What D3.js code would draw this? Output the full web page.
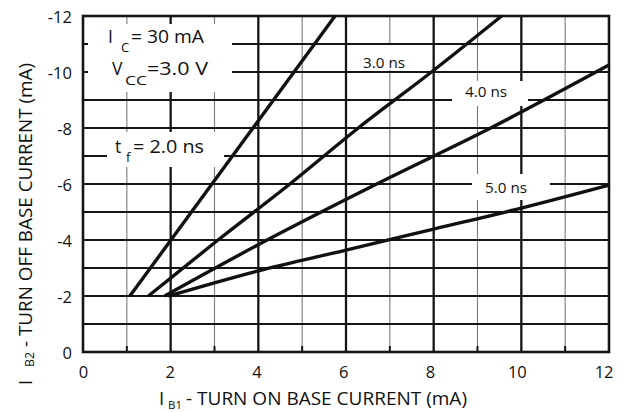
<!DOCTYPE html>
<html>
<head>
<meta charset="utf-8">
<script src="https://cdn.jsdelivr.net/npm/d3@7"></script>
<style>
  body { margin: 0; background: #fff; }
  svg { display: block; font-family: 'Open Sans', sans-serif; }
</style>
</head>
<body>
<div id="chart"></div>
<script>
// values (IB1 mA, IB2 mA)
const xTicks = [0, 2, 4, 6, 8, 10, 12];
const yTicks = [0, -2, -4, -6, -8, -10, -12];
const curveNames = ['2.0 ns', '3.0 ns', '4.0 ns', '5.0 ns'];
const tf20 = [[1.07, -2], [5.75, -12]];
const tf30 = [[1.49, -2], [3.08, -4], [4.72, -6], [6.28, -8], [7.95, -10], [9.55, -12]];
const tf40 = [[1.86, -2], [4.2, -4], [6.7, -6], [9.3, -8], [12, -10.25]];
const tf50 = [[1.95, -2], [4, -2.9], [6, -3.64], [8, -4.39], [10, -5.14], [12, -5.96]];
const curves = [tf20, tf30, tf40, tf50];

const width = 632, height = 412;
const margin = {top: 16, right: 23, bottom: 60, left: 83};

const svg = d3.select('#chart').append('svg')
  .attr('width', width)
  .attr('height', height);

const x = d3.scaleLinear().domain([0, 12]).range([margin.left, width - margin.right]);
const y = d3.scaleLinear().domain([0, -12]).range([height - margin.bottom, margin.top]);

// grid
const grid = svg.append('g');
grid.selectAll('.vline')
  .data(d3.range(1, 12))
  .enter().append('line')
  .attr('x1', d => x(d)).attr('x2', d => x(d))
  .attr('y1', y(0)).attr('y2', y(-12))
  .attr('stroke', d => d % 2 ? '#7a7a7a' : '#151515')
  .attr('stroke-width', d => d % 2 ? 1.1 : 2.3);

grid.selectAll('.hline')
  .data(d3.range(-11, 0))
  .enter().append('line')
  .attr('x1', x(0)).attr('x2', x(12))
  .attr('y1', d => y(d)).attr('y2', d => y(d))
  .attr('stroke', '#151515')
  .attr('stroke-width', 2);

// short bold ticks on the odd minor lines
grid.selectAll('.tick-minor')
  .data(d3.range(1, 12, 2))
  .enter().append('line')
  .attr('x1', d => x(d)).attr('x2', d => x(d))
  .attr('y1', y(0)).attr('y2', y(0) - 6)
  .attr('stroke', '#151515')
  .attr('stroke-width', 2);

// white label backgrounds
const boxes = [[88, 24, 144, 68], [107, 132, 117, 35], [352, 45, 63, 25], [452, 81, 76, 25], [472, 174, 78, 26]];
svg.append('g').selectAll('rect')
  .data(boxes)
  .enter().append('rect')
  .attr('x', d => d[0]).attr('y', d => d[1])
  .attr('width', d => d[2]).attr('height', d => d[3])
  .attr('fill', '#fff');

// frame
svg.append('rect')
  .attr('x', x(0)).attr('y', y(-12))
  .attr('width', x(12) - x(0)).attr('height', y(0) - y(-12))
  .attr('fill', 'none')
  .attr('stroke', '#151515')
  .attr('stroke-width', 2.6);

// curves
const line = d3.line()
  .x(d => x(d[0]))
  .y(d => y(d[1]))
  .curve(d3.curveMonotoneX);

svg.append('g').selectAll('path')
  .data(curves)
  .enter().append('path')
  .attr('d', line)
  .attr('fill', 'none')
  .attr('stroke', '#111')
  .attr('stroke-width', 3.4)
  .attr('stroke-linecap', 'butt');

// axes
const xAxis = svg.append('g')
  .attr('transform', 'translate(0,' + y(0) + ')')
  .call(d3.axisBottom(x).tickValues(xTicks).tickSize(0).tickPadding(14));
xAxis.select('.domain').remove();
xAxis.selectAll('text')
  .attr('font-size', 16.5)
  .attr('font-family', 'Open Sans')
  .attr('fill', '#111')
  .attr('dx', d => -d * 0.45);

const yAxis = svg.append('g')
  .attr('transform', 'translate(' + x(0) + ',0)')
  .call(d3.axisLeft(y).tickValues(yTicks).tickSize(0).tickPadding(11));
yAxis.select('.domain').remove();
yAxis.selectAll('text')
  .attr('font-size', 16.5)
  .attr('font-family', 'Open Sans')
  .attr('fill', '#111')
  .attr('dy', '0.42em')
  .text(d => d === 0 ? '0' : '-' + Math.abs(d));

// axis titles
const txt = (sx, sy, s, size, len) => {
  const t = svg.append('text')
    .attr('x', sx).attr('y', sy)
    .attr('font-size', size)
    .attr('fill', '#111')
    .text(s);
  if (len) t.attr('textLength', len).attr('lengthAdjust', 'spacingAndGlyphs');
  return t;
};

txt(159, 405, 'I', 18.5);
txt(168, 409, 'B1', 11.5, 14);
txt(186, 405, '- TURN ON BASE CURRENT (mA)', 18.5, 281);

const yTitle = svg.append('g').attr('font-size', 18.5).attr('fill', '#111');
yTitle.append('text')
  .attr('transform', 'translate(32,385) rotate(-90)')
  .text('I');
yTitle.append('text')
  .attr('transform', 'translate(34,367) rotate(-90)')
  .attr('font-size', 12)
  .attr('textLength', 15).attr('lengthAdjust', 'spacingAndGlyphs')
  .text('B2');
yTitle.append('text')
  .attr('transform', 'translate(32,347) rotate(-90)')
  .attr('textLength', 284).attr('lengthAdjust', 'spacingAndGlyphs')
  .text('- TURN OFF BASE CURRENT (mA)');

// conditions
txt(108, 43, 'I', 17.5);
txt(121, 52, 'C', 13);
txt(131, 43, '= 30 mA', 17.5, 73);
txt(112, 75, 'V', 17.5);
txt(125, 85, 'CC', 13, 22);
txt(147, 75, '=3.0 V', 17.5, 61);
txt(115, 153, 't', 17.5);
txt(126, 162, 'f', 13);
txt(133, 153, '= 2.0 ns', 17.5, 71);

// curve labels (2.0 ns is in the conditions block)
const labelPos = [null, [363, 67.5], [465, 96.7], [485, 192.7]];
curveNames.forEach((name, i) => {
  if (!labelPos[i]) return;
  txt(labelPos[i][0], labelPos[i][1], name, 14.5, 42);
});
</script>
</body>
</html>
